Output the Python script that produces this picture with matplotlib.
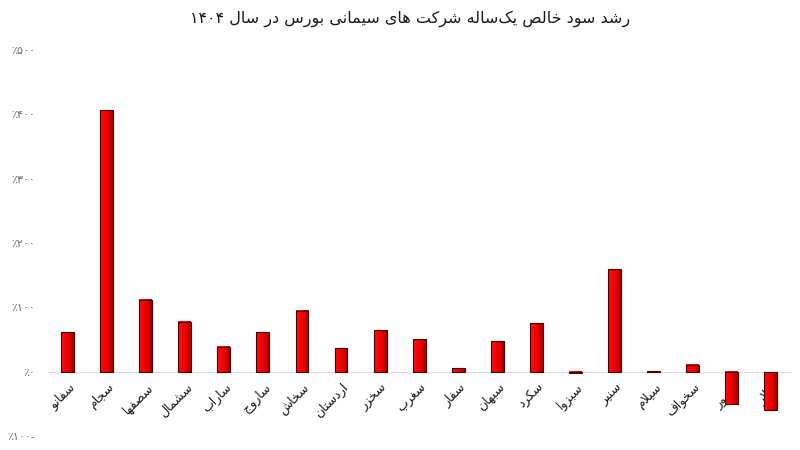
import matplotlib
matplotlib.use('Agg')
import matplotlib.pyplot as plt
from matplotlib.colors import LinearSegmentedColormap
from matplotlib.ticker import FuncFormatter, MultipleLocator
from matplotlib.transforms import ScaledTranslation
import numpy as np

plt.rcParams['font.family'] = ['DejaVu Sans']

title = 'رشد سود خالص یک‌ساله شرکت های سیمانی بورس در سال ۱۴۰۴'
companies = ['سفانو', 'سجام', 'سصفها', 'سشمال', 'ساراب', 'ساروج', 'سخاش',
             'اردستان', 'سخزر', 'سغرب', 'سفار', 'سبهان', 'سکرد', 'سبزوا',
             'سنیر', 'سیلام', 'سخواف', 'سدور', 'سلار']
growth = [61, 406, 112, 78, 39, 62, 95, 37, 65, 51, 6, 48, 76, -2,
          160, 0.5, 11, -50, -59]

# isolated, final, initial, medial  (None -> letter joins only to the right)
FORMS = {
    'ا': ('\uFE8D', '\uFE8E', None, None),
    'ب': ('\uFE8F', '\uFE90', '\uFE91', '\uFE92'),
    'پ': ('\uFB56', '\uFB57', '\uFB58', '\uFB59'),
    'ت': ('\uFE95', '\uFE96', '\uFE97', '\uFE98'),
    'ج': ('\uFE9D', '\uFE9E', '\uFE9F', '\uFEA0'),
    'خ': ('\uFEA5', '\uFEA6', '\uFEA7', '\uFEA8'),
    'د': ('\uFEA9', '\uFEAA', None, None),
    'ر': ('\uFEAD', '\uFEAE', None, None),
    'ز': ('\uFEAF', '\uFEB0', None, None),
    'س': ('\uFEB1', '\uFEB2', '\uFEB3', '\uFEB4'),
    'ش': ('\uFEB5', '\uFEB6', '\uFEB7', '\uFEB8'),
    'ص': ('\uFEB9', '\uFEBA', '\uFEBB', '\uFEBC'),
    'غ': ('\uFECD', '\uFECE', '\uFECF', '\uFED0'),
    'ف': ('\uFED1', '\uFED2', '\uFED3', '\uFED4'),
    'ل': ('\uFEDD', '\uFEDE', '\uFEDF', '\uFEE0'),
    'م': ('\uFEE1', '\uFEE2', '\uFEE3', '\uFEE4'),
    'ن': ('\uFEE5', '\uFEE6', '\uFEE7', '\uFEE8'),
    'ه': ('\uFEE9', '\uFEEA', '\uFEEB', '\uFEEC'),
    'و': ('\uFEED', '\uFEEE', None, None),
    'ک': ('\uFB8E', '\uFB8F', '\uFB90', '\uFB91'),
    'ی': ('\uFBFC', '\uFBFD', '\uFBFE', '\uFBFF'),
}
DIGITS = set('۰۱۲۳۴۵۶۷۸۹')


def dual(c):
    return c in FORMS and FORMS[c][2] is not None


def rtl(text):
    # join letters into their contextual forms, then lay out right to left
    out = []
    i = 0
    n = len(text)
    while i < n:
        c = text[i]
        if c not in FORMS:
            if c != '\u200c':
                out.append(c)
            i += 1
            continue
        prev_joins = i > 0 and dual(text[i - 1])
        if c == 'ل' and i + 1 < n and text[i + 1] == 'ا':
            out.append('\uFEFC' if prev_joins else '\uFEFB')
            i += 2
            continue
        next_joins = dual(c) and i + 1 < n and text[i + 1] in FORMS
        iso, fin, ini, med = FORMS[c]
        if prev_joins and next_joins:
            out.append(med)
        elif prev_joins:
            out.append(fin)
        elif next_joins:
            out.append(ini)
        else:
            out.append(iso)
        i += 1
    vis = out[::-1]
    # digit runs keep left-to-right order
    res = []
    run = []
    for ch in vis:
        if ch in DIGITS:
            run.append(ch)
        else:
            if run:
                res.extend(run[::-1])
                run = []
            res.append(ch)
    res.extend(run[::-1])
    return ''.join(res)


def fa_num(v):
    s = str(int(abs(v))).translate(str.maketrans('0123456789', '۰۱۲۳۴۵۶۷۸۹'))
    return '٪' + s + ('-' if v < 0 else '')


fig = plt.figure(figsize=(8, 4.5), dpi=100)
ax = fig.add_axes([0.06, 0.031, 0.928, 0.858])

x = np.arange(len(companies))
bars = ax.bar(x, growth, width=0.33, color='none', edgecolor='#4a0000',
              linewidth=0.8, zorder=4)

grad = LinearSegmentedColormap.from_list('redgrad', ['#ff1010', '#f20000', '#a80000'])
g = np.linspace(0, 1, 64).reshape(1, -1)
for b in bars:
    x0, w, h = b.get_x(), b.get_width(), b.get_height()
    ax.imshow(g, cmap=grad, aspect='auto', extent=(x0, x0 + w, 0, h),
              zorder=3, interpolation='bicubic')

ax.set_xlim(-0.5, len(companies) - 0.5)
ax.set_ylim(-100, 500)
ax.yaxis.set_major_locator(MultipleLocator(100))
ax.yaxis.set_major_formatter(FuncFormatter(lambda v, p: fa_num(v)))

for s in ['top', 'right', 'left']:
    ax.spines[s].set_visible(False)
ax.spines['bottom'].set_position(('data', 0))
ax.spines['bottom'].set_color('#d9d9d9')
ax.spines['bottom'].set_zorder(2)

# category labels sit under the zero line, slanted, partly hidden by negative bars
ax.set_xticks(x)
ax.set_xticklabels([])
ax.tick_params(axis='x', length=0)
off = ax.transData + ScaledTranslation(4 / 72, -10 / 72, fig.dpi_scale_trans)
for xi, name in zip(x, companies):
    ax.text(xi, 0, rtl(name), transform=off, rotation=45, ha='right',
            va='center', rotation_mode='anchor', fontsize=9, color='#1a1a1a',
            zorder=2)

ax.tick_params(axis='y', length=0, pad=9, labelsize=8, labelcolor='#6f6f6f')

fig.text(0.512, 0.958, rtl(title), ha='center', va='center', fontsize=11.5,
         color='#1a1a1a')

fig.savefig('out.png', dpi=100)
